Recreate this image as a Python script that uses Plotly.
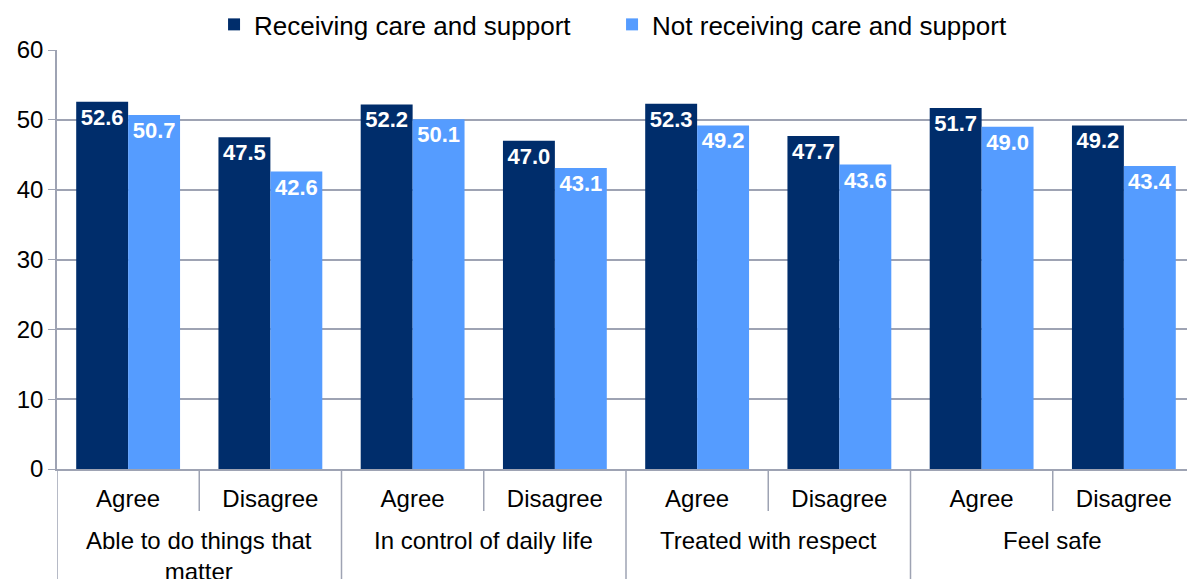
import plotly.graph_objects as go

# data
groups = ["Able to do things that<br>matter", "In control of daily life",
          "Treated with respect", "Feel safe"]
answers = ["Agree", "Disagree"]
receiving = [52.6, 47.5, 52.2, 47.0, 52.3, 47.7, 51.7, 49.2]
not_receiving = [50.7, 42.6, 50.1, 43.1, 49.2, 43.6, 49.0, 43.4]

n = len(receiving)
xs = list(range(n))
labels = answers * len(groups)

dark = "#002d6b"
light = "#559cff"
grid = "#9ea3b3"
font = "Liberation Sans, Arial, sans-serif"

fig = go.Figure()
fig.add_trace(go.Bar(x=xs, y=receiving, name="Receiving care and support",
                     marker={'color': dark, 'line': {'width': 0}},
                     text=[f"{v:.1f}" for v in receiving], textposition="inside",
                     insidetextanchor="end",
                     textfont={'color': 'white', 'size': 22, 'family': font, 'weight': 'bold'}))
fig.add_trace(go.Bar(x=xs, y=not_receiving, name="Not receiving care and support",
                     marker={'color': light, 'line': {'width': 0}},
                     text=[f"{v:.1f}" for v in not_receiving], textposition="inside",
                     insidetextanchor="end",
                     textfont={'color': 'white', 'size': 22, 'family': font, 'weight': 'bold'}))

# category dividers and group labels
shapes = []
annotations = []
for i in range(n + 1):
    outer = i % 2 == 0
    shapes.append(dict(type="line", xref="x", yref="paper", x0=i - 0.5, x1=i - 0.5,
                       y0=0, y1=-0.27 if outer else -0.1,
                       line={'color': grid, 'width': 1.5}))
for g, name in enumerate(groups):
    annotations.append(dict(x=2 * g + 0.5, y=-0.134, xref="x", yref="paper",
                            text=name, showarrow=False, yanchor="top",
                            font={'size': 24, 'color': 'black', 'family': font}))

# the page body adds an 8px offset, so the margins account for it
fig.update_layout(
    width=1195, height=579,
    margin={'l': 49, 'r': 8, 't': 42, 'b': 118, 'autoexpand': False},
    plot_bgcolor="white", paper_bgcolor="white",
    barmode="group", bargap=0.27, bargroupgap=0,
    font={'family': font, 'size': 24, 'color': 'black'},
    legend={'orientation': 'h', 'x': 0.138, 'xanchor': 'left',
            'y': 1.117, 'yanchor': 'top',
            'font': {'size': 26}, 'traceorder': 'normal',
            'itemwidth': 30, 'entrywidth': 353, 'entrywidthmode': 'pixels'},
    xaxis={'range': [-0.5, n - 0.5], 'tickvals': xs, 'ticktext': labels,
           'showgrid': False, 'ticks': '', 'ticklabelstandoff': 7,
           'showline': True, 'linecolor': grid, 'linewidth': 1.5,
           'zeroline': False},
    yaxis={'range': [0, 60], 'dtick': 10, 'showgrid': True, 'gridcolor': grid,
           'gridwidth': 1.5, 'ticks': 'outside', 'ticklen': 7, 'tickcolor': grid,
           'showline': True, 'linecolor': grid, 'linewidth': 1.5, 'zeroline': False},
    shapes=shapes, annotations=annotations,
)

fig.write_html("out.html")
